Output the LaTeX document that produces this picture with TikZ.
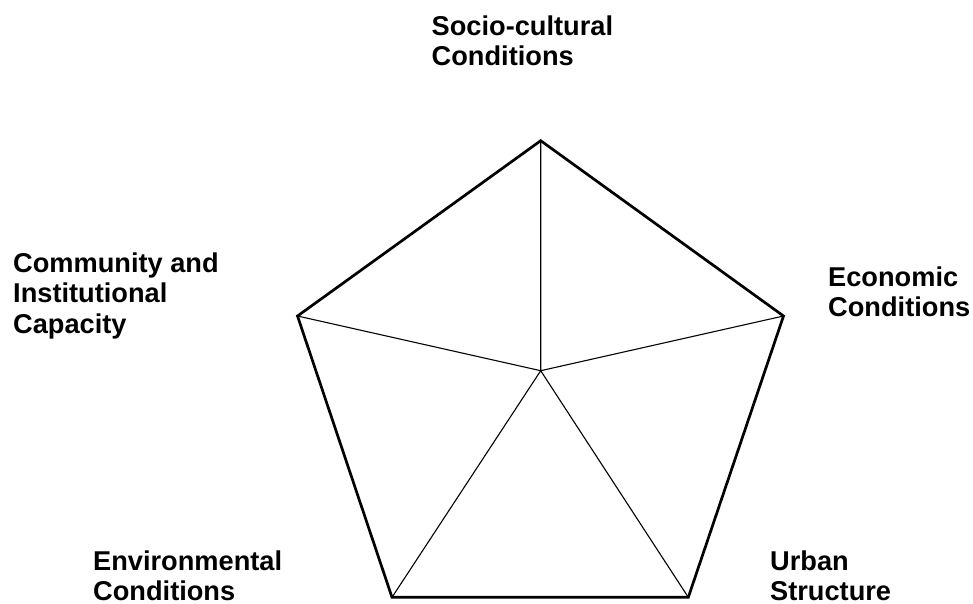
\documentclass[tikz,border=0pt]{standalone}
\usepackage{fontspec}
\setmainfont{Liberation Sans}
\begin{document}
\begin{tikzpicture}[x=1pt,y=-1pt,
  lbl/.style={anchor=base west,inner sep=0pt,align=left,
    font=\fontsize{27.2pt}{30.5pt}\selectfont\bfseries},
  outer/.style={line width=2.7pt,line join=miter},
  inner/.style={line width=1.1pt}]
\useasboundingbox (0,0) rectangle (973,604);
\coordinate (T) at (540.7,140.7);
\coordinate (R) at (783.5,316);
\coordinate (BR) at (688.3,597.3);
\coordinate (BL) at (392,597.3);
\coordinate (L) at (297.5,316);
\coordinate (C) at (540.7,370.7);
\draw[inner] (C) -- (T) (C) -- (R) (C) -- (BR) (C) -- (BL) (C) -- (L);
\draw[outer] (T) -- (R) -- (BR) -- (BL) -- (L) -- cycle;
\node[lbl] (soc) at (431.5,66) {Socio-cultural\\Conditions};
\node[lbl] (eco) at (828,316.7) {Economic\\Conditions};
\node[lbl] (com) at (13,333) {Community and\\Institutional\\Capacity};
\node[lbl] (env) at (93,600.5) {Environmental\\Conditions};
\node[lbl] (urb) at (770,600.5) {Urban\\Structure};
\end{tikzpicture}
\end{document}
